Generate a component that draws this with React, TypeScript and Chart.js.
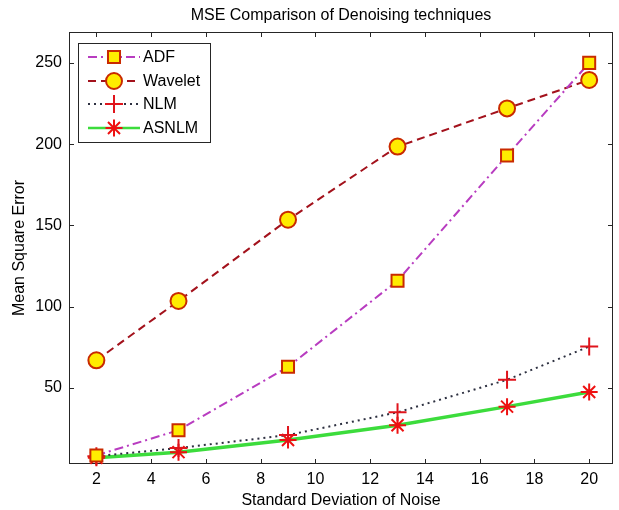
import React, { useEffect, useRef } from 'react';
import { Chart, registerables } from 'chart.js';
import { drawPoint } from 'chart.js/helpers';

Chart.register(...registerables);

const noiseLevels = [2, 5, 9, 13, 17, 20];
const adfValues = [8.5, 24, 63, 116, 193, 250];
const waveletValues = [67, 103.5, 153.5, 198.5, 222, 239.5];
const nlmValues = [8, 13, 21, 35, 55, 75.5];
const asnlmValues = [7, 10.5, 18, 27, 38.5, 47.5];
const xTickValues = [2, 4, 6, 8, 10, 12, 14, 16, 18, 20];
const yTickValues = [50, 100, 150, 200, 250];
const seriesNames = ['ADF', 'Wavelet', 'NLM', 'ASNLM'];

const FONT = '"Liberation Sans", Arial, Helvetica, sans-serif';
const AXIS_COLOR = '#262626';

const yellow = '#ffec00';
const markerEdge = '#c92a00';

const seriesStyles = [
  { line: '#b83cc0', dash: [9, 4, 2, 4], width: 2, pointStyle: 'rect', radius: 8.5, fill: yellow, edge: markerEdge, edgeWidth: 2 },
  { line: '#a3121c', dash: [8, 5], width: 2, pointStyle: 'circle', radius: 8, fill: yellow, edge: markerEdge, edgeWidth: 2 },
  { line: '#2d3040', dash: [2, 4], width: 2, pointStyle: 'cross', radius: 9, fill: '#e8141c', edge: '#e0141c', edgeWidth: 2 },
  { line: '#3cdc3c', dash: [], width: 3.5, pointStyle: 'star', radius: 8.5, fill: '#ee1111', edge: '#ee1111', edgeWidth: 2 },
];

const seriesValues = [adfValues, waveletValues, nlmValues, asnlmValues];

const framePlugin = {
  id: 'matlabFrame',
  beforeDatasetsDraw(chart: any) {
    const { ctx, chartArea: a, scales } = chart;
    ctx.save();
    ctx.strokeStyle = AXIS_COLOR;
    ctx.lineWidth = 1;
    ctx.strokeRect(Math.round(a.left) + 0.5, Math.round(a.top) + 0.5, Math.round(a.width) - 1, Math.round(a.height) - 1);
    const tl = 5;
    ctx.beginPath();
    scales.x.ticks.forEach((t: any) => {
      const px = Math.round(scales.x.getPixelForValue(t.value)) + 0.5;
      ctx.moveTo(px, a.bottom);
      ctx.lineTo(px, a.bottom - tl);
      ctx.moveTo(px, a.top);
      ctx.lineTo(px, a.top + tl);
    });
    scales.y.ticks.forEach((t: any) => {
      const py = Math.round(scales.y.getPixelForValue(t.value)) + 0.5;
      ctx.moveTo(a.left, py);
      ctx.lineTo(a.left + tl, py);
      ctx.moveTo(a.right, py);
      ctx.lineTo(a.right - tl, py);
    });
    ctx.stroke();
    ctx.restore();
  },
  afterDraw(chart: any) {
    const { ctx, chartArea: a } = chart;
    ctx.save();
    ctx.fillStyle = '#000';
    ctx.font = `16px ${FONT}`;
    ctx.textAlign = 'center';
    ctx.textBaseline = 'alphabetic';
    const cx = (a.left + a.right) / 2;
    ctx.fillText('MSE Comparison of Denoising techniques', cx, 20);
    ctx.fillText('Standard Deviation of Noise', cx, 505);
    ctx.save();
    ctx.translate(24, (a.top + a.bottom) / 2);
    ctx.rotate(-Math.PI / 2);
    ctx.fillText('Mean Square Error', 0, 0);
    ctx.restore();

    // Legend
    const bx = 78, by = 43, bw = 132, bh = 99;
    ctx.fillStyle = '#fff';
    ctx.fillRect(bx, by, bw, bh);
    ctx.strokeStyle = AXIS_COLOR;
    ctx.lineWidth = 1;
    ctx.strokeRect(bx + 0.5, by + 0.5, bw, bh);
    const rows = [57, 81, 104, 128];
    seriesNames.forEach((name, i) => {
      const s = seriesStyles[i];
      const y = rows[i];
      ctx.save();
      ctx.strokeStyle = s.line;
      ctx.lineWidth = i === 3 ? 2.5 : s.width;
      ctx.setLineDash(s.dash);
      ctx.beginPath();
      ctx.moveTo(88, y);
      ctx.lineTo(140, y);
      ctx.stroke();
      ctx.setLineDash([]);
      ctx.fillStyle = s.fill;
      ctx.strokeStyle = s.edge;
      ctx.lineWidth = s.edgeWidth;
      drawPoint(ctx, { pointStyle: s.pointStyle as any, radius: s.radius, rotation: 0, borderWidth: s.edgeWidth }, 114, y);
      ctx.restore();
      ctx.fillStyle = '#000';
      ctx.font = `16px ${FONT}`;
      ctx.textAlign = 'left';
      ctx.textBaseline = 'middle';
      ctx.fillText(name, 143, y + 1);
    });
    ctx.restore();
  },
};

export default function App() {
  const canvasRef = useRef<HTMLCanvasElement | null>(null);

  useEffect(() => {
    if (!canvasRef.current) return;
    const datasets = seriesNames.map((name, i) => {
      const s = seriesStyles[i];
      return {
        label: name,
        data: noiseLevels.map((x, j) => ({ x, y: seriesValues[i][j] })),
        borderColor: s.line,
        borderWidth: s.width,
        borderDash: s.dash,
        backgroundColor: s.fill,
        pointStyle: s.pointStyle,
        pointRadius: s.radius,
        pointBackgroundColor: s.fill,
        pointBorderColor: s.edge,
        pointBorderWidth: s.edgeWidth,
        tension: 0,
        fill: false,
        clip: false as any,
      };
    });
    const chart = new Chart(canvasRef.current, {
      type: 'line',
      data: { datasets },
      options: {
        animation: false,
        responsive: false,
        layout: { autoPadding: false, padding: { top: 32, right: 6, left: 0, bottom: 0 } },
        plugins: { legend: { display: false }, tooltip: { enabled: false }, title: { display: false } },
        scales: {
          x: {
            type: 'linear',
            min: 1,
            max: 20.87,
            grid: { display: false, drawTicks: false },
            border: { display: false },
            ticks: { color: '#000', font: { family: FONT, size: 16 }, padding: 6, maxRotation: 0 },
            afterBuildTicks: (scale: any) => { scale.ticks = xTickValues.map((v) => ({ value: v })); },
            afterFit: (scale: any) => { scale.height = 46; },
          },
          y: {
            type: 'linear',
            min: 3.2,
            max: 269,
            grid: { display: false, drawTicks: false },
            border: { display: false },
            ticks: { color: '#000', font: { family: FONT, size: 16 }, padding: 7 },
            afterBuildTicks: (scale: any) => { scale.ticks = yTickValues.map((v) => ({ value: v })); },
            afterFit: (scale: any) => { scale.width = 69; },
          },
        },
      },
      plugins: [framePlugin],
    });
    return () => chart.destroy();
  }, []);

  return (
    <div style={{ position: 'fixed', left: 0, top: 0, width: 619, height: 510, background: '#fff' }}>
      <canvas ref={canvasRef} width={619} height={510} />
    </div>
  );
}
